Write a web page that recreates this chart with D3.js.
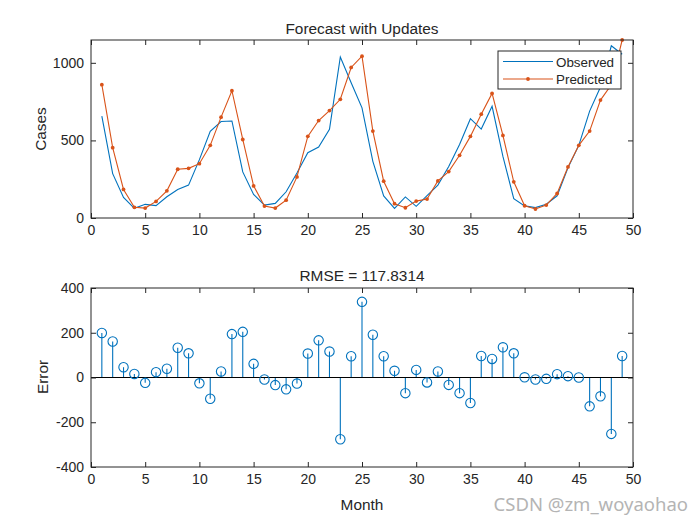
<!DOCTYPE html>
<html><head><meta charset="utf-8">
<script src="https://cdn.jsdelivr.net/npm/d3@7"></script>
<style>
body{margin:0;background:#fff}
svg text{font-family:"Liberation Sans",Arial,Helvetica,sans-serif;fill:#262626}
</style>
</head><body>
<svg id="c" width="700" height="525"></svg>
<script>
// ---- data ----
const months = d3.range(1, 50);
const observed = [656,286,133,62,88,80,137,184,212,376,558,622,625,297,152,83,94,169,290,421,
  457,571,1038,872,710,365,142,62,136,75,144,212,332,474,640,573,720,397,125,78,
  67,89,143,323,468,689,844,1110,1055];
const predicted = [859,453,184,69,64,107,175,314,320,350,468,650,820,506,207,77,64,115,265,526,
  628,692,765,970,1043,560,237,92,66,109,122,239,299,404,526,669,803,532,233,79,
  58,83,158,329,468,560,760,858,1147];
const errors = [199,161,46,16,-24,24,39,133,108,-26,-95,27,194,204,61,-9,-34,-53,-27,107,
  166,116,-276,95,338,191,95,30,-70,34,-22,27,-33,-70,-114,96,83,135,108,1,
  -9,-6,15,6,0,-129,-84,-252,96];
const xTicks = [0,5,10,15,20,25,30,35,40,45,50];
const yTicksTop = [0,500,1000];
const yTicksBottom = [-400,-200,0,200,400];
const titleTop = "Forecast with Updates";
const titleBottom = "RMSE = 117.8314";
const seriesNames = ["Observed","Predicted"];

const BLUE = "#0072BD", ORANGE = "#D95319", AX = "#262626";
const svg = d3.select("#c");
const L = 91, R = 633;

const x = d3.scaleLinear().domain([0,50]).range([L,R]);
const yTop = d3.scaleLinear().domain([0,1147]).range([218,40]);
const yBot = d3.scaleLinear().domain([-400,400]).range([467,288]);
const fmt = d => String(d);

function frame(y, yTicks, top, bottom) {
  const g = svg.append("g");
  g.append("g").attr("transform",`translate(0,${bottom})`)
    .call(d3.axisBottom(x).tickValues(xTicks).tickFormat(fmt).tickSizeInner(-5).tickSizeOuter(0).tickPadding(7));
  g.append("g").attr("transform",`translate(0,${top})`)
    .call(d3.axisTop(x).tickValues(xTicks).tickSizeInner(-5).tickSizeOuter(0).tickFormat(""));
  g.append("g").attr("transform",`translate(${L},0)`)
    .call(d3.axisLeft(y).tickValues(yTicks).tickFormat(fmt).tickSizeInner(-5).tickSizeOuter(0).tickPadding(7));
  g.append("g").attr("transform",`translate(${R},0)`)
    .call(d3.axisRight(y).tickValues(yTicks).tickSizeInner(-5).tickSizeOuter(0).tickFormat(""));
  g.selectAll(".domain").remove();
  g.selectAll(".tick line").attr("stroke",AX);
  g.selectAll(".tick text").attr("font-size",14).attr("fill",AX)
    .style("font-family",'"Liberation Sans",Arial,sans-serif');
  g.append("rect").attr("x",L).attr("y",top).attr("width",R-L).attr("height",bottom-top)
    .attr("fill","none").attr("stroke",AX).attr("stroke-width",1);
  return g;
}

// ---- top chart ----
const plotTop = svg.append("g");
plotTop.append("path").datum(months.map((m,i)=>[m,observed[i]]))
  .attr("fill","none").attr("stroke",BLUE).attr("stroke-width",1.1)
  .attr("d", d3.line().x(d=>x(d[0])).y(d=>yTop(d[1])));
plotTop.append("path").datum(months.map((m,i)=>[m,predicted[i]]))
  .attr("fill","none").attr("stroke",ORANGE).attr("stroke-width",1.1)
  .attr("d", d3.line().x(d=>x(d[0])).y(d=>yTop(d[1])));
plotTop.selectAll("circle.p").data(months.map((m,i)=>[m,predicted[i]])).enter()
  .append("circle").attr("class","p").attr("cx",d=>x(d[0])).attr("cy",d=>yTop(d[1]))
  .attr("r",1.9).attr("fill",ORANGE);
frame(yTop, yTicksTop, 40, 218);

svg.append("text").attr("x",(L+R)/2).attr("y",34).attr("text-anchor","middle")
  .attr("font-size",15.4).text(titleTop);
svg.append("text").attr("transform","translate(46,129) rotate(-90)").attr("text-anchor","middle")
  .attr("font-size",15.4).text("Cases");

// legend
const lg = svg.append("g");
lg.append("rect").attr("x",498).attr("y",51).attr("width",123).attr("height",38)
  .attr("fill","#fff").attr("stroke",AX).attr("stroke-width",1);
lg.append("line").attr("x1",503).attr("x2",553).attr("y1",61.5).attr("y2",61.5).attr("stroke",BLUE).attr("stroke-width",1.1);
lg.append("line").attr("x1",503).attr("x2",553).attr("y1",79).attr("y2",79).attr("stroke",ORANGE).attr("stroke-width",1.1);
lg.append("circle").attr("cx",528).attr("cy",79).attr("r",1.9).attr("fill",ORANGE);
lg.append("text").attr("x",556).attr("y",66.5).attr("font-size",13.4).text(seriesNames[0]);
lg.append("text").attr("x",556).attr("y",84).attr("font-size",13.4).text(seriesNames[1]);

// ---- bottom chart ----
const plotBot = svg.append("g");
plotBot.selectAll("line.s").data(months.map((m,i)=>[m,errors[i]])).enter()
  .append("line").attr("class","s")
  .attr("x1",d=>x(d[0])).attr("x2",d=>x(d[0]))
  .attr("y1",yBot(0)).attr("y2",d=>yBot(d[1]))
  .attr("stroke",BLUE).attr("stroke-width",1.1);
plotBot.append("line").attr("x1",L).attr("x2",R).attr("y1",yBot(0)).attr("y2",yBot(0))
  .attr("stroke","#000").attr("stroke-width",1.1);
plotBot.selectAll("circle.e").data(months.map((m,i)=>[m,errors[i]])).enter()
  .append("circle").attr("class","e").attr("cx",d=>x(d[0])).attr("cy",d=>yBot(d[1]))
  .attr("r",4.7).attr("fill","none").attr("stroke",BLUE).attr("stroke-width",1.1);
frame(yBot, yTicksBottom, 288, 467);

svg.append("text").attr("x",(L+R)/2).attr("y",281).attr("text-anchor","middle")
  .attr("font-size",15.4).text(titleBottom);
svg.append("text").attr("transform","translate(48,377) rotate(-90)").attr("text-anchor","middle")
  .attr("font-size",15.4).text("Error");
svg.append("text").attr("x",(L+R)/2).attr("y",510).attr("text-anchor","middle")
  .attr("font-size",15.4).text("Month");

// watermark
svg.append("text").attr("x",688).attr("y",511).attr("text-anchor","end")
  .attr("font-size",18.5).style("font-family",'"Noto Sans","DejaVu Sans",sans-serif')
  .style("fill","#b4b4b4").text("CSDN @zm_woyaohao");
</script>
</body></html>
